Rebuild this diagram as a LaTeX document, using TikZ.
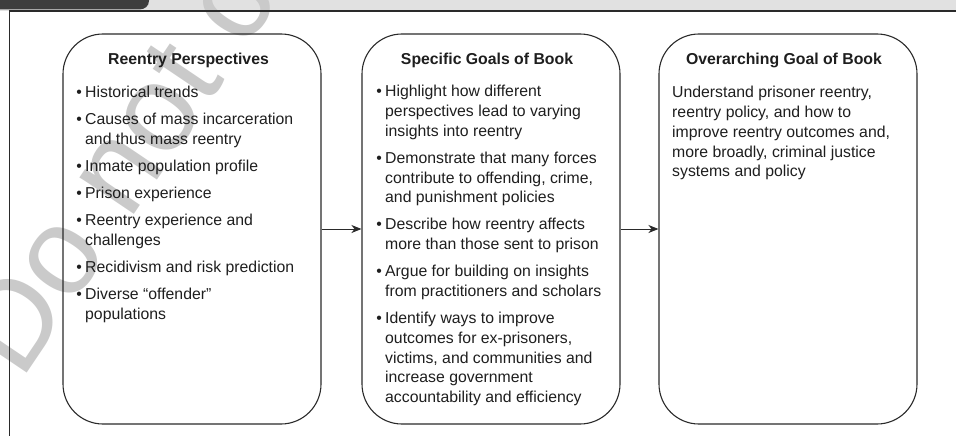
\documentclass[tikz,border=0pt]{standalone}
\usepackage{fontspec}
\setmainfont{Liberation Sans}
\usetikzlibrary{arrows.meta}
\definecolor{bandc}{HTML}{E1E1E1}
\definecolor{tabc}{HTML}{3D3D3D}
\definecolor{wmc}{HTML}{CACACA}
\definecolor{linec}{HTML}{2A2A2A}
\definecolor{txtc}{HTML}{1E1E1E}
\newcommand\bi{\par\hangindent=9.5pt\hangafter=1\noindent\makebox[9.5pt][l]{\hspace{0.6pt}•}}
\newcommand\boxbody[1]{\vtop{\hsize=250pt\parindent=0pt\fontsize{15.8}{19.8}\selectfont\parskip=7.2pt #1}}
\tikzset{
  bx/.style={draw=linec, line width=1.1pt, rounded corners=40pt, minimum width=258pt, minimum height=390pt, inner sep=0pt},
  ttl/.style={anchor=base, inner sep=0pt, text=txtc, font=\fontsize{15.8}{19.8}\selectfont\bfseries},
  bodytxt/.style={anchor=base west, inner sep=0pt, text=txtc},
  arr/.style={draw=linec, line width=0.9pt, -{Stealth[length=10pt,width=8pt,inset=3pt]}},
  frame/.style={draw=linec, line width=1.1pt},
  wm/.style={anchor=base west, inner sep=0pt, text=wmc, rotate=56, font=\fontsize{124}{124}\selectfont}
}
\begin{document}
\begin{tikzpicture}[x=1pt,y=-1pt]
\useasboundingbox (0,0) rectangle (956,436);
% top band and tab
\fill[bandc] (0,0) rectangle (956,11);
\fill[tabc] (0,0) -- (149,0) -- (149,0.5) .. controls (149,6) and (145,9.5) .. (139,9.5) -- (0,9.5) -- cycle;
% watermark
\begin{scope}
\clip (0,0) rectangle (956,436);
\node[wm] (wm) at (21.6,381.6) {Do not copy, post, or distribute};
\end{scope}
% frame
\coordinate (fa) at (9.5,436);
\coordinate (fb) at (9.5,11);
\coordinate (fc) at (956,11);
\draw[frame] (fa) -- (fb) -- (fc);
% boxes
\node[bx] (b1) at (192,229) {};
\node[bx] (b2) at (491,229) {};
\node[bx] (b3) at (788,229) {};
% titles
\node[ttl] (h1) at (188.5,64.5) {Reentry Perspectives};
\node[ttl] (h2) at (487,64.5) {Specific Goals of Book};
\node[ttl] (h3) at (784,64.5) {Overarching Goal of Book};
% bodies
\node[bodytxt] (t1) at (75.5,98) {\boxbody{%
\bi Historical trends
\bi Causes of mass incarceration\newline and thus mass reentry
\bi Inmate population profile
\bi Prison experience
\bi Reentry experience and\newline challenges
\bi Recidivism and risk prediction
\bi Diverse “offender”\newline populations}};
\node[bodytxt] (t2) at (375.5,96.7) {\boxbody{%
\bi Highlight how different\newline perspectives lead to varying\newline insights into reentry
\bi Demonstrate that many forces\newline contribute to offending, crime,\newline and punishment policies
\bi Describe how reentry affects\newline more than those sent to prison
\bi Argue for building on insights\newline from practitioners and scholars
\bi Identify ways to improve\newline outcomes for ex-prisoners,\newline victims, and communities and\newline increase government\newline accountability and efficiency}};
\node[bodytxt] (t3) at (672,97.7) {\boxbody{%
\noindent Understand prisoner reentry,\newline reentry policy, and how to\newline improve reentry outcomes and,\newline more broadly, criminal justice\newline systems and policy}};
% arrows
\draw[arr] (b1.east) -- (b2.west);
\draw[arr] (b2.east) -- (b3.west);
\end{tikzpicture}
\end{document}
